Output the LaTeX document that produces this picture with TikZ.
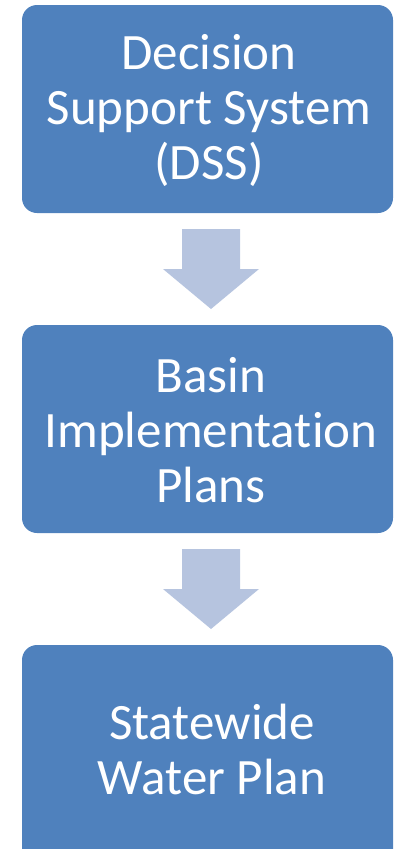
\documentclass[tikz,border=0pt]{standalone}
\usepackage{fontspec}
\setmainfont[Ligatures=NoCommon]{Carlito}
\definecolor{boxblue}{HTML}{4F81BD}
\definecolor{arrowblue}{HTML}{B6C4DF}
\begin{document}
\begin{tikzpicture}[x=1pt,y=-1pt,
  box/.style={fill=boxblue, draw=none, rounded corners=15pt},
  lbl/.style={text=white, align=center, font=\fontsize{51}{55}\selectfont},
  arr/.style={fill=arrowblue, draw=none}]
\useasboundingbox (0,0) rectangle (395,849);
\fill[box] (22,5) rectangle (393,213);
\node[lbl] (a) at (209,110) {Decision\\Support System\\(DSS)};
\fill[box] (22,325) rectangle (393,533);
\node[lbl] (b) at (211,430) {Basin\\Implementation\\Plans};
\fill[box] (22,645) rectangle (393,865);
\node[lbl] (c) at (212,749) {Statewide\\Water Plan};
\fill[arr] (182,229) -- (240,229) -- (240,269) -- (259,269) -- (211,309) -- (163,269) -- (182,269) -- cycle;
\fill[arr] (182,549) -- (240,549) -- (240,589) -- (259,589) -- (211,629) -- (163,589) -- (182,589) -- cycle;
\end{tikzpicture}
\end{document}
